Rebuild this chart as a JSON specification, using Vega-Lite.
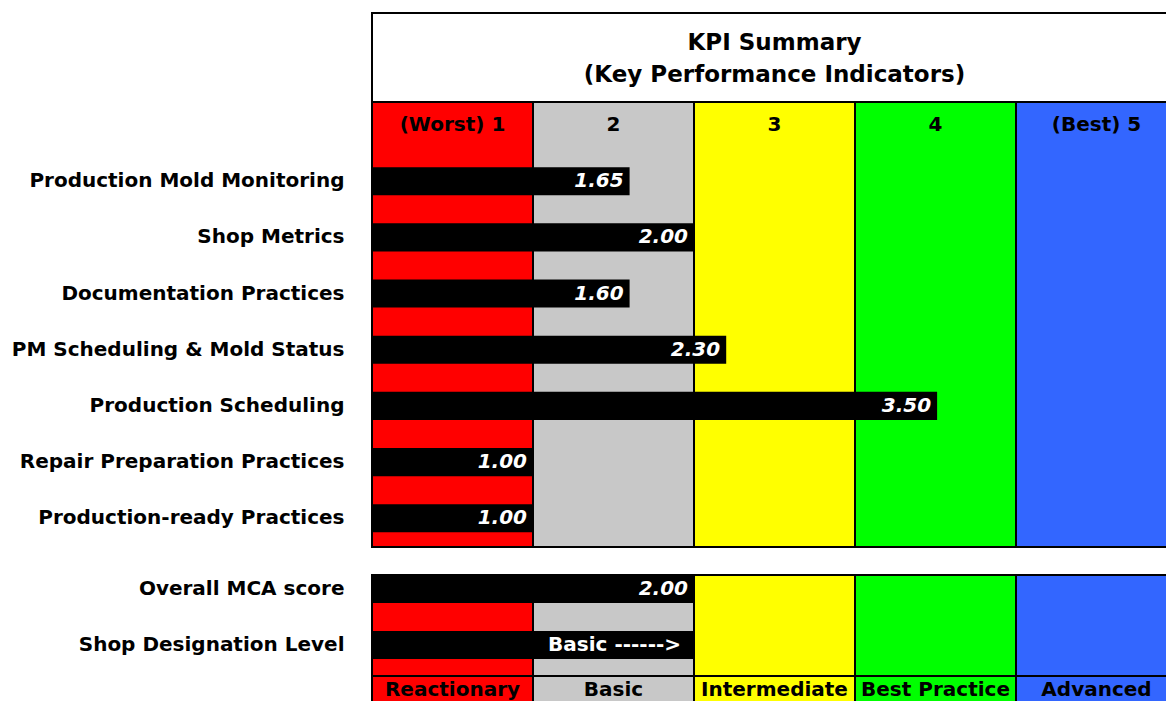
{
  "$schema": "https://vega.github.io/schema/vega-lite/v6.json",
  "padding": {"left": 10, "top": 12, "right": 0, "bottom": 0},
  "background": "white",
  "config": {
    "font": "DejaVu Sans",
    "view": {"stroke": "black", "strokeWidth": 2},
    "axisY": {
      "labelFont": "DejaVu Sans",
      "labelFontSize": 20,
      "labelFontWeight": "bold",
      "labelColor": "black",
      "labelPadding": 28,
      "labelLimit": 500,
      "ticks": false,
      "domain": false,
      "grid": false,
      "title": null
    }
  },
  "datasets": {
    "levels": [
      {"level": 1, "heading": "(Worst) 1", "designation": "Reactionary"},
      {"level": 2, "heading": "2", "designation": "Basic"},
      {"level": 3, "heading": "3", "designation": "Intermediate"},
      {"level": 4, "heading": "4", "designation": "Best Practice"},
      {"level": 5, "heading": "(Best) 5", "designation": "Advanced"}
    ],
    "kpis": [
      {"kpi": "Production Mold Monitoring", "bar": 1.6, "label": "1.65"},
      {"kpi": "Shop Metrics", "bar": 2.0, "label": "2.00"},
      {"kpi": "Documentation Practices", "bar": 1.6, "label": "1.60"},
      {"kpi": "PM Scheduling & Mold Status", "bar": 2.2, "label": "2.30"},
      {"kpi": "Production Scheduling", "bar": 3.51, "label": "3.50"},
      {"kpi": "Repair Preparation Practices", "bar": 1.0, "label": "1.00"},
      {"kpi": "Production-ready Practices", "bar": 1.0, "label": "1.00"}
    ],
    "summary": [
      {"kpi": "Overall MCA score", "bar": 2.0, "label": "2.00"},
      {"kpi": "Shop Designation Level", "bar": 2.0, "label": "Basic ------>"}
    ]
  },
  "spacing": 24,
  "vconcat": [
    {
      "spacing": 0,
      "bounds": "flush",
      "vconcat": [
        {
          "width": 805,
          "height": 89,
          "data": {"values": [{"title": "KPI Summary\n(Key Performance Indicators)"}]},
          "layer": [
            {
              "mark": {"type": "rect", "fill": "white", "stroke": "black", "strokeWidth": 2},
              "encoding": {}
            },
            {
              "mark": {"type": "text", "lineBreak": "\n", "fontSize": 23, "fontWeight": "bold", "lineHeight": 32, "color": "black", "baseline": "middle", "align": "center", "dy": -15},
              "encoding": {"text": {"field": "title", "type": "nominal"}}
            }
          ]
        },
        {
          "width": 805,
          "height": 445,
          "resolve": {"scale": {"x": "independent"}},
          "layer": [
            {
              "data": {"name": "levels"},
              "mark": {"type": "rect", "stroke": "black", "strokeWidth": 2},
              "encoding": {
                "x": {"field": "level", "type": "ordinal", "scale": {"domain": [1, 2, 3, 4, 5], "paddingInner": 0, "paddingOuter": 0}, "axis": null},
                "fill": {"field": "level", "type": "ordinal", "scale": {"domain": [1, 2, 3, 4, 5], "range": ["#FF0000", "#C8C8C8", "#FFFF00", "#00FF00", "#3366FF"]}, "legend": null}
              }
            },
            {
              "data": {"name": "levels"},
              "mark": {"type": "text", "fontSize": 20, "fontWeight": "bold", "color": "black"},
              "encoding": {
                "x": {"field": "level", "type": "ordinal", "scale": {"domain": [1, 2, 3, 4, 5], "paddingInner": 0, "paddingOuter": 0}, "axis": null},
                "y": {"datum": "Levels", "type": "nominal"},
                "text": {"field": "heading", "type": "nominal"}
              }
            },
            {
              "data": {"name": "kpis"},
              "mark": {"type": "bar", "color": "black"},
              "encoding": {
                "y": {
                  "field": "kpi", "type": "nominal", "sort": null,
                  "scale": {
                    "domain": ["Levels", "Production Mold Monitoring", "Shop Metrics", "Documentation Practices", "PM Scheduling & Mold Status", "Production Scheduling", "Repair Preparation Practices", "Production-ready Practices"],
                    "paddingInner": 0.5, "paddingOuter": 0.211, "align": 0.38
                  },
                  "axis": {"labelExpr": "datum.value == 'Levels' ? '' : datum.value"}
                },
                "x": {"field": "bar", "type": "quantitative", "scale": {"domain": [0, 5], "nice": false, "zero": true}, "axis": null}
              }
            },
            {
              "data": {"name": "kpis"},
              "mark": {"type": "text", "align": "right", "dx": -6, "color": "white", "fontSize": 20, "fontWeight": "bold", "fontStyle": "italic"},
              "encoding": {
                "y": {"field": "kpi", "type": "nominal"},
                "x": {"field": "bar", "type": "quantitative", "scale": {"domain": [0, 5], "nice": false}, "axis": null},
                "text": {"field": "label", "type": "nominal"}
              }
            }
          ]
        }
      ]
    },
    {
      "spacing": 0,
      "bounds": "flush",
      "vconcat": [
        {
          "width": 805,
          "height": 101,
          "resolve": {"scale": {"x": "independent"}},
          "layer": [
            {
              "data": {"name": "levels"},
              "mark": {"type": "rect", "stroke": "black", "strokeWidth": 2},
              "encoding": {
                "x": {"field": "level", "type": "ordinal", "scale": {"domain": [1, 2, 3, 4, 5], "paddingInner": 0, "paddingOuter": 0}, "axis": null},
                "fill": {"field": "level", "type": "ordinal", "scale": {"domain": [1, 2, 3, 4, 5], "range": ["#FF0000", "#C8C8C8", "#FFFF00", "#00FF00", "#3366FF"]}, "legend": null}
              }
            },
            {
              "data": {"name": "summary"},
              "mark": {"type": "bar", "color": "black"},
              "encoding": {
                "y": {
                  "field": "kpi", "type": "nominal", "sort": null,
                  "scale": {"domain": ["Overall MCA score", "Shop Designation Level"], "paddingInner": 0.5, "paddingOuter": 0.152, "align": 0}
                },
                "x": {"field": "bar", "type": "quantitative", "scale": {"domain": [0, 5], "nice": false, "zero": true}, "axis": null}
              }
            },
            {
              "data": {"name": "summary"},
              "transform": [{"filter": "datum.kpi == 'Overall MCA score'"}],
              "mark": {"type": "text", "align": "right", "dx": -6, "color": "white", "fontSize": 20, "fontWeight": "bold", "fontStyle": "italic"},
              "encoding": {
                "y": {"field": "kpi", "type": "nominal"},
                "x": {"field": "bar", "type": "quantitative", "scale": {"domain": [0, 5], "nice": false}, "axis": null},
                "text": {"field": "label", "type": "nominal"}
              }
            },
            {
              "data": {"name": "summary"},
              "transform": [{"filter": "datum.kpi == 'Shop Designation Level'"}],
              "mark": {"type": "text", "align": "right", "dx": -13, "color": "white", "fontSize": 20, "fontWeight": "bold"},
              "encoding": {
                "y": {"field": "kpi", "type": "nominal"},
                "x": {"field": "bar", "type": "quantitative", "scale": {"domain": [0, 5], "nice": false}, "axis": null},
                "text": {"field": "label", "type": "nominal"}
              }
            }
          ]
        },
        {
          "width": 805,
          "height": 28,
          "data": {"name": "levels"},
          "encoding": {
            "x": {"field": "level", "type": "ordinal", "scale": {"domain": [1, 2, 3, 4, 5], "paddingInner": 0, "paddingOuter": 0}, "axis": null}
          },
          "layer": [
            {
              "mark": {"type": "rect", "stroke": "black", "strokeWidth": 2},
              "encoding": {
                "fill": {"field": "level", "type": "ordinal", "scale": {"domain": [1, 2, 3, 4, 5], "range": ["#FF0000", "#C8C8C8", "#FFFF00", "#00FF00", "#3366FF"]}, "legend": null}
              }
            },
            {
              "mark": {"type": "text", "fontSize": 20, "fontWeight": "bold", "color": "black"},
              "encoding": {"text": {"field": "designation", "type": "nominal"}}
            }
          ]
        }
      ]
    }
  ]
}
